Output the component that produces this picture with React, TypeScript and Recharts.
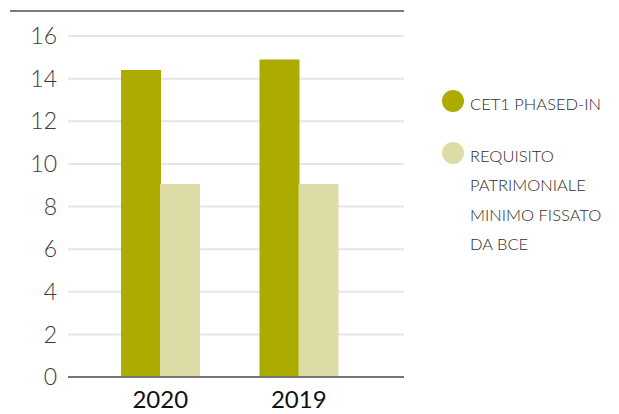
import React from 'react';
import { BarChart, Bar, XAxis, YAxis, CartesianGrid } from 'recharts';

const years = ['2020', '2019'];
const cet1Values = [14.4, 14.9];
const requisitoValues = [9.05, 9.05];
const yTicks = [0, 2, 4, 6, 8, 10, 12, 14, 16];

const data = years.map((year, i) => ({
  year,
  cet1: cet1Values[i],
  requisito: requisitoValues[i],
}));

const FONT = 'Lato, "Open Sans", sans-serif';
const DARK = '#abab00';
const LIGHT = '#dddca6';

const legendItems = [
  { color: DARK, lines: ['CET1 PHASED-IN'] },
  { color: LIGHT, lines: ['REQUISITO', 'PATRIMONIALE', 'MINIMO FISSATO', 'DA BCE'] },
];

// legend drawn as plain html next to the chart so it doesn't shrink the plot
const ChartLegend = () => (
  <div
    style={{
      position: 'absolute',
      left: 442,
      top: 90,
      width: 177,
      fontFamily: FONT,
      fontSize: 16.5,
      color: '#2e2e2e',
      fontWeight: 300,
    }}
  >
    {legendItems.map((item, i) => (
      <div key={i} style={{ display: 'flex', alignItems: 'flex-start', marginBottom: 22 }}>
        <div
          style={{
            width: 22,
            height: 22,
            borderRadius: 11,
            background: item.color,
            marginRight: 6,
            flexShrink: 0,
          }}
        />
        <div style={{ lineHeight: '29.5px', marginTop: 0 }}>
          {item.lines.map((l) => (
            <div key={l}>{l}</div>
          ))}
        </div>
      </div>
    ))}
  </div>
);

const YearTick = (props: any) => {
  const { x, y, payload } = props;
  return (
    <text x={x} y={y + 23} textAnchor="middle" fill="#111" fontSize={24} fontFamily={FONT}>
      {payload.value}
    </text>
  );
};

export default function App() {
  return (
    <div style={{ position: 'absolute', left: 0, top: 0, width: 619, height: 414, background: '#fff' }}>
      <div style={{ position: 'absolute', left: 10, top: 10, width: 394, height: 2, background: '#7a7a7a' }} />
      <BarChart
        width={619}
        height={414}
        data={data}
        margin={{ top: 36, right: 215, bottom: 0, left: 0 }}
        barSize={40}
        barGap={-1}
      >
        <CartesianGrid vertical={false} stroke="#e6e6e6" strokeWidth={2} />
        <XAxis
          dataKey="year"
          height={37}
          padding={{ left: 23, right: 36 }}
          tickLine={false}
          axisLine={{ stroke: '#777', strokeWidth: 2 }}
          tick={<YearTick />}
        />
        <YAxis
          width={68}
          domain={[0, 16]}
          ticks={yTicks}
          interval={0}
          axisLine={false}
          tickLine={false}
          tickMargin={5}
          tick={{ fill: '#3a3a3a', fontSize: 23, fontFamily: FONT, fontWeight: 300 }}
        />
        <Bar dataKey="cet1" name="CET1 PHASED-IN" fill={DARK} isAnimationActive={false} />
        <Bar dataKey="requisito" name="REQUISITO PATRIMONIALE MINIMO FISSATO DA BCE" fill={LIGHT} isAnimationActive={false} />
      </BarChart>
      <ChartLegend />
    </div>
  );
}
